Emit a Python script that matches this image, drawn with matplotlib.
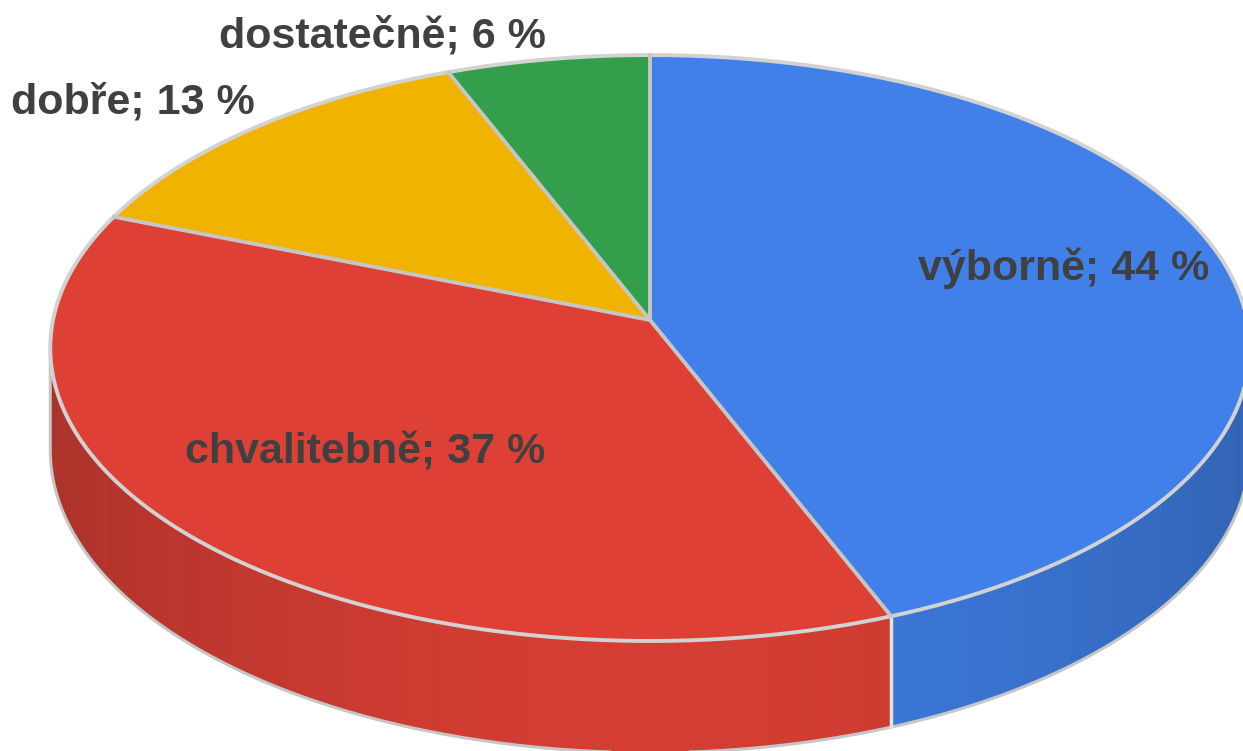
import matplotlib
matplotlib.use("Agg")
import matplotlib.pyplot as plt
import numpy as np
from matplotlib.collections import PolyCollection
from matplotlib.colors import to_rgb

# data
categories = ["výborně", "chvalitebně", "dobře", "dostatečně"]
shares = [44, 37, 13, 6]
top_colors = ["#4080e8", "#de4035", "#efb300", "#339f4c"]

# label anchors (pixel layout)
label_pos = [(1064, 268), (365, 452), (133, 103), (382, 36)]

# geometry of the tilted disc, in pixels
APEX_X, APEX_Y = 650, 320
RX = 597
RY = 259.7
PERSP = -0.0956
DEPTH = 101
EDGE = "#c6c6c6"


def project(theta):
    # theta clockwise from the far (top) point, radians
    v = -np.cos(theta)
    den = 1 + PERSP * v
    x = APEX_X + RX * np.sin(theta) / den
    y = (RY * v + APEX_Y) / den
    return x, y, den


def shade(rgb, theta):
    f = 0.96 - 0.19 * np.abs(np.sin(theta)) ** 1.6
    return tuple(np.clip(np.array(rgb) * f, 0, 1))


fig = plt.figure(figsize=(12.43, 7.51), dpi=100)
ax = fig.add_axes([0, 0, 1, 1])
ax.set_xlim(0, 1243)
ax.set_ylim(751, 0)
ax.axis("off")

fracs = np.array(shares, dtype=float) / sum(shares)
bounds = np.concatenate([[0], np.cumsum(fracs)]) * 2 * np.pi

# side wall, drawn as thin strips, far strips first
strips, strip_cols, strip_depth = [], [], []
for i in range(len(shares)):
    th = np.linspace(bounds[i], bounds[i + 1], int(400 * fracs[i]) + 2)
    for t0, t1 in zip(th[:-1], th[1:]):
        x0, y0, d0 = project(t0)
        x1, y1, d1 = project(t1)
        strips.append([(x0, y0), (x1, y1), (x1, y1 + DEPTH / d1), (x0, y0 + DEPTH / d0)])
        tm = 0.5 * (t0 + t1)
        strip_cols.append(shade(to_rgb(top_colors[i]), tm))
        strip_depth.append(-np.cos(tm))
order = np.argsort(strip_depth)
ax.add_collection(PolyCollection([strips[k] for k in order], facecolors=[strip_cols[k] for k in order],
                                 edgecolors=[strip_cols[k] for k in order], linewidths=0.6, zorder=1))

# silhouette of the near wall
tt = np.linspace(0, 2 * np.pi, 721)
xs, ys, ds = project(tt)
left = tt[np.argmin(xs)]
right = tt[np.argmax(xs)]
tb = np.linspace(right, left, 300)
xb, yb, db = project(tb)
xl, yl, dl = project(left)
xr, yr, dr = project(right)
ax.plot(np.r_[xr, xb, xl], np.r_[yr, yb + DEPTH / db, yl], color=EDGE, lw=2.2, zorder=2,
        solid_capstyle="round")

# dividing lines on the wall
for b in bounds[:-1]:
    if -np.cos(b) > -0.05:
        xw, yw, dw = project(b)
        ax.plot([xw, xw], [yw, yw + DEPTH / dw], color="#e4e4e4", lw=2.5, zorder=2)

# top face
for i in range(len(shares)):
    th = np.linspace(bounds[i], bounds[i + 1], 200)
    x, y, _ = project(th)
    px = np.r_[APEX_X, x]
    py = np.r_[APEX_Y, y]
    ax.fill(px, py, color=top_colors[i], lw=0, zorder=3)
ax.plot(xs, ys, color="#d2d2d2", lw=2.8, zorder=4)
for b in bounds[:-1]:
    xe, ye, _ = project(b)
    ax.plot([APEX_X, xe], [APEX_Y, ye], color=EDGE, lw=2.8, zorder=4, solid_capstyle="round")

for name, share, (lx, ly) in zip(categories, shares, label_pos):
    ax.text(lx, ly, f"{name}; {share} %", ha="center", va="center", fontsize=31,
            fontweight="bold", color="#404040", family="Liberation Sans", zorder=5)

fig.savefig("out.png", dpi=100)
plt.close(fig)
